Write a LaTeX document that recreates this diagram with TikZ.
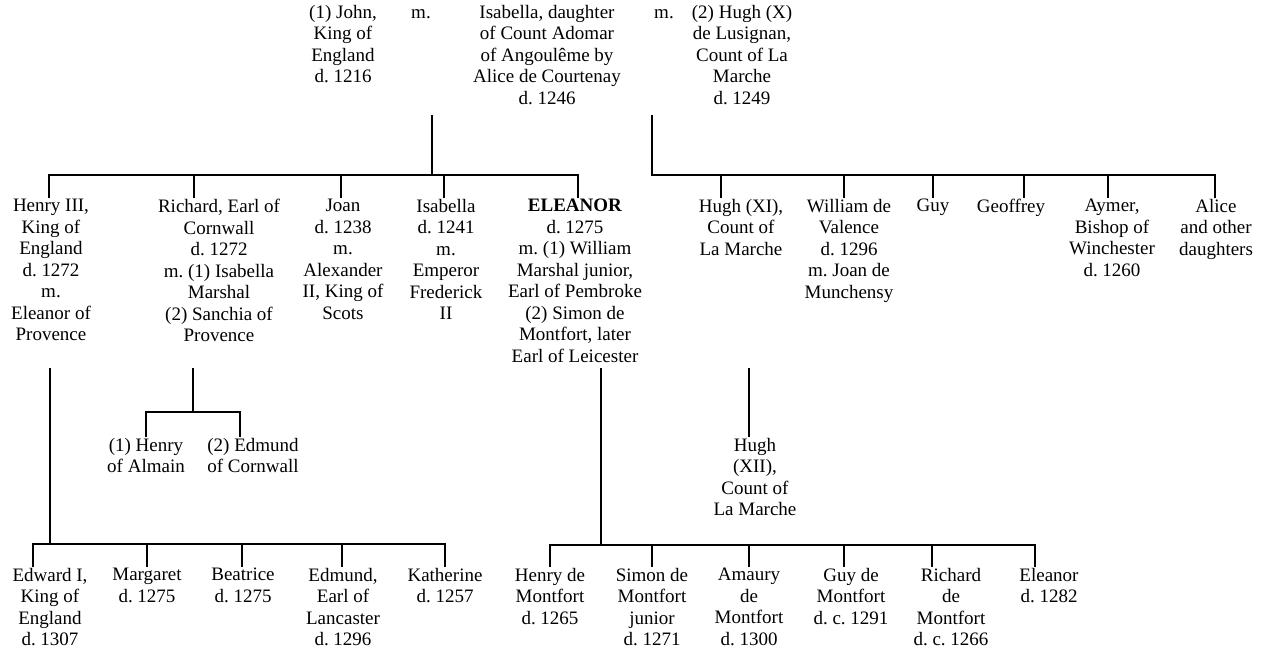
\documentclass[tikz,border=0pt]{standalone}
\usepackage{fontspec}
\setmainfont{Liberation Serif}
\usepackage{tikz}
\tikzstyle{line} = [line width=1.8pt]
\tikzstyle{person} = [anchor=north, align=center, inner sep=1pt, font=\fontsize{19}{21.5}\selectfont]
\frenchspacing

\begin{document}
\begin{tikzpicture}[x=1pt, y=-1pt]
    \useasboundingbox (0,0) rectangle (1261,652);

    % first generation
    \node (john)     [person] at (343,4) {(1) John,\\King of\\England\\d. 1216};
    \node (mone)     [person] at (421,8) {m.};
    \node (isabella) [person] at (547,4) {Isabella, daughter\\of Count Adomar\\of Angoulême by\\Alice de Courtenay\\d. 1246};
    \node (mtwo)     [person] at (664,8) {m.};
    \node (hughx)    [person] at (742,4) {(2) Hugh (X)\\de Lusignan,\\Count of La\\Marche\\d. 1249};

    % children of John
    \node (henry)    [person] at (51,198)  {Henry III,\\King of\\England\\d. 1272\\m.\\Eleanor of\\Provence};
    \node (richard)  [person] at (219,198) {Richard, Earl of\\Cornwall\\d. 1272\\m. (1) Isabella\\Marshal\\(2) Sanchia of\\Provence};
    \node (joan)     [person] at (343,198) {Joan\\d. 1238\\m.\\Alexander\\II, King of\\Scots};
    \node (isab)     [person] at (446,198) {Isabella\\d. 1241\\m.\\Emperor\\Frederick\\II};
    \node (eleanor)  [person] at (575,198) {\textbf{ELEANOR}\\d. 1275\\m. (1) William\\Marshal junior,\\Earl of Pembroke\\(2) Simon de\\Montfort, later\\Earl of Leicester};

    % children of Hugh (X)
    \node (hughxi)   [person] at (741,198)  {Hugh (XI),\\Count of\\La Marche};
    \node (william)  [person] at (849,198)  {William de\\Valence\\d. 1296\\m. Joan de\\Munchensy};
    \node (guy)      [person] at (933,198)  {Guy};
    \node (geoffrey) [person] at (1011,198) {Geoffrey};
    \node (aymer)    [person] at (1112,198) {Aymer,\\Bishop of\\Winchester\\d. 1260};
    \node (alice)    [person] at (1216,198) {Alice\\and other\\daughters};

    % grandchildren
    \node (almain)   [person] at (146,437) {(1) Henry\\of Almain};
    \node (edmundc)  [person] at (253,437) {(2) Edmund\\of Cornwall};
    \node (hughxii)  [person] at (755,437) {Hugh\\(XII),\\Count of\\La Marche};

    \node (edward)    [person] at (50,567)  {Edward I,\\King of\\England\\d. 1307};
    \node (margaret)  [person] at (147,567) {Margaret\\d. 1275};
    \node (beatrice)  [person] at (243,567) {Beatrice\\d. 1275};
    \node (edmund)    [person] at (343,567) {Edmund,\\Earl of\\Lancaster\\d. 1296};
    \node (katherine) [person] at (445,567) {Katherine\\d. 1257};

    \node (henrym)   [person] at (550,567)  {Henry de\\Montfort\\d. 1265};
    \node (simonm)   [person] at (652,567)  {Simon de\\Montfort\\junior\\d. 1271};
    \node (amaurym)  [person] at (749,567)  {Amaury\\de\\Montfort\\d. 1300};
    \node (guym)     [person] at (851,567)  {Guy de\\Montfort\\d. c. 1291};
    \node (richardm) [person] at (951,567)  {Richard\\de\\Montfort\\d. c. 1266};
    \node (eleanorm) [person] at (1049,567) {Eleanor\\d. 1282};

    % junctions
    \coordinate (jl)    at (432,115);
    \coordinate (barl)  at (432,175);
    \coordinate (jr)    at (652,115);
    \coordinate (barr)  at (652,175);
    \coordinate (rdrop) at (193,368);
    \coordinate (rbar)  at (193,412);
    \coordinate (hdrop) at (749,368);
    \coordinate (kdrop) at (50,368);
    \coordinate (kbar)  at (50,544);
    \coordinate (edrop) at (601,368);
    \coordinate (ebar)  at (601,545);

    % John and Isabella
    \draw [line] (jl) -- (barl);
    \draw [line] ([xshift=-2pt]henry.north) |- (barl) -| ([xshift=3pt]eleanor.north);
    \draw [line] ([xshift=-25pt]richard.north) -- ([xshift=-25pt]richard.north |- barl);
    \draw [line] ([xshift=-2pt]joan.north) -- ([xshift=-2pt]joan.north |- barl);
    \draw [line] ([xshift=-2pt]isab.north) -- ([xshift=-2pt]isab.north |- barl);

    % Hugh and Isabella
    \draw [line] (jr) -- (barr) -| ([xshift=-1pt]alice.north);
    \draw [line] ([xshift=-20pt]hughxi.north) -- ([xshift=-20pt]hughxi.north |- barr);
    \draw [line] ([xshift=-5pt]william.north) -- ([xshift=-5pt]william.north |- barr);
    \draw [line] (guy.north) -- (guy.north |- barr);
    \draw [line] ([xshift=13pt]geoffrey.north) -- ([xshift=13pt]geoffrey.north |- barr);
    \draw [line] ([xshift=-4pt]aymer.north) -- ([xshift=-4pt]aymer.north |- barr);

    % Richard
    \draw [line] (rdrop) -- (rbar);
    \draw [line] (almain.north) |- (rbar) -| ([xshift=-13pt]edmundc.north);

    % Hugh (XI)
    \draw [line] (hdrop) -- ([xshift=-6pt]hughxii.north);

    % Henry III
    \draw [line] (kdrop) -- (kbar);
    \draw [line] ([xshift=-17pt]edward.north) |- (kbar) -| (katherine.north);
    \draw [line] (margaret.north) -- (margaret.north |- kbar);
    \draw [line] ([xshift=-1pt]beatrice.north) -- ([xshift=-1pt]beatrice.north |- kbar);
    \draw [line] ([xshift=-1pt]edmund.north) -- ([xshift=-1pt]edmund.north |- kbar);

    % Eleanor
    \draw [line] (edrop) -- (ebar);
    \draw [line] (henrym.north) |- (ebar) -| ([xshift=-14pt]eleanorm.north);
    \draw [line] (simonm.north) -- (simonm.north |- ebar);
    \draw [line] (amaurym.north) -- (amaurym.north |- ebar);
    \draw [line] ([xshift=-7pt]guym.north) -- ([xshift=-7pt]guym.north |- ebar);
    \draw [line] ([xshift=-19pt]richardm.north) -- ([xshift=-19pt]richardm.north |- ebar);
\end{tikzpicture}
\end{document}
